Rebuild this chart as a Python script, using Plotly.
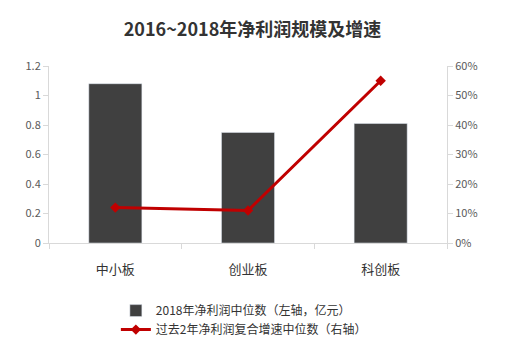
import plotly.graph_objects as go

categories = ["中小板", "创业板", "科创板"]
net_profit = [1.08, 0.75, 0.81]
growth = [0.12, 0.11, 0.55]
left_ticks = [0, 0.2, 0.4, 0.6, 0.8, 1, 1.2]
left_labels = ["0", "0.2", "0.4", "0.6", "0.8", "1", "1.2"]
right_ticks = [0, 0.1, 0.2, 0.3, 0.4, 0.5, 0.6]
right_labels = ["0%", "10%", "20%", "30%", "40%", "50%", "60%"]

FONT = "Noto Sans CJK SC, Noto Sans, sans-serif"

fig = go.Figure()
fig.add_trace(go.Bar(
    x=categories, y=net_profit, name="2018年净利润中位数（左轴，亿元）",
    marker=dict(color="#404040"), width=0.4, yaxis="y"))
fig.add_trace(go.Scatter(
    x=categories, y=growth, name="过去2年净利润复合增速中位数（右轴）",
    mode="lines+markers", line=dict(color="#C00000", width=3),
    marker=dict(symbol="diamond", size=8, color="#C00000"), yaxis="y2"))

fig.update_layout(
    width=505, height=352,
    margin=dict(l=49, r=58, t=66, b=109, autoexpand=False),
    paper_bgcolor="white", plot_bgcolor="white",
    title=dict(text="<b>2016~2018年净利润规模及增速</b>", x=0.5, xanchor="center",
               y=0.915, yanchor="middle",
               font=dict(family=FONT, size=18, color="#333333")),
    font=dict(family=FONT, color="#595959"),
    showlegend=True,
    legend=dict(x=0.168, y=-0.3, xanchor="left", yanchor="top",
                orientation="v", font=dict(size=12, color="#333333"),
                tracegroupgap=0, itemwidth=30),
    xaxis=dict(showline=True, linecolor="#D9D9D9", linewidth=1,
               ticks="outside", tickson="boundaries", ticklen=5, tickcolor="#D9D9D9",
               ticklabelstandoff=14,
               tickfont=dict(size=13, color="#333333"), showgrid=False),
    yaxis=dict(range=[0, 1.2], tickvals=left_ticks, ticktext=left_labels,
               showline=True, linecolor="#D9D9D9", ticks="outside", ticklen=5,
               tickcolor="#D9D9D9", showgrid=False, zeroline=False,
               tickfont=dict(size=11, color="#595959")),
    yaxis2=dict(range=[0, 0.6], tickvals=right_ticks, ticktext=right_labels,
                overlaying="y", side="right",
                showline=True, linecolor="#D9D9D9", ticks="outside", ticklen=5,
                tickcolor="#D9D9D9", showgrid=False, zeroline=False,
                tickfont=dict(size=11, color="#595959")),
)

fig.write_html("out.html")
